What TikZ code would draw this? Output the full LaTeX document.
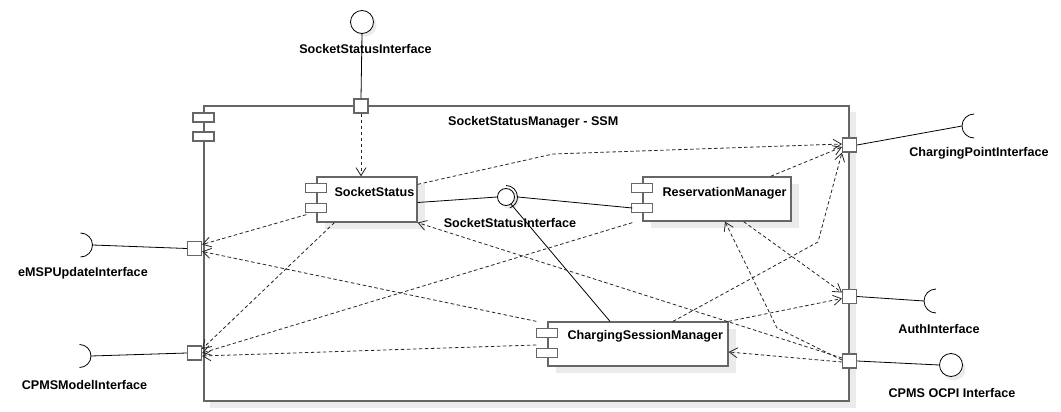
\documentclass[tikz,border=0pt]{standalone}
\usepackage{fontspec}
\setmainfont{Liberation Sans}
\usetikzlibrary{arrows.meta,calc}
\begin{document}
\begin{tikzpicture}[x=1pt,y=-1pt,
  lbl/.style={font=\bfseries\fontsize{12.6}{14}\selectfont, inner sep=0pt},
  boxc/.style={draw=black!60, line width=1.3pt, fill=white, inner sep=0pt},
  shad/.style={fill=black!8, draw=none},
  icon/.style={draw=black!60, line width=1.1pt, fill=white},
  port/.style={draw=black!60, line width=1.1pt, fill=white, minimum size=14pt, inner sep=0pt},
  iface/.style={draw=black, line width=0.8pt, fill=white, circle, minimum size=23pt, inner sep=0pt},
  dep/.style={draw=black!85, line width=0.8pt, dash pattern=on 3.5pt off 2.5pt, -{Straight Barb[length=8pt,width=10pt,line width=0.8pt]}},
  dl/.style={draw=black!85, line width=0.8pt, dash pattern=on 3.5pt off 2.5pt},
  sl/.style={draw=black, line width=0.8pt},
]
\useasboundingbox (0,0) rectangle (1061,412);
% main component
\fill[shad] (210,112) rectangle (856,408);
\node[boxc, minimum width=645pt, minimum height=295pt] (ssm) at (526.5,253.5) {};
\draw[icon] (193,113) rectangle (214,122);
\draw[icon] (193,132) rectangle (214,141);
\node[lbl, anchor=west] (ssmt) at (448,122) {SocketStatusManager - SSM};

% inner components
\fill[shad] (325,184) rectangle (425,229);
\fill[shad] (651,184) rectangle (799,228);
\fill[shad] (556,329) rectangle (736,373);
\node[boxc, minimum width=100pt, minimum height=45pt] (ss) at (367,199.5) {};
\node[boxc, minimum width=148pt, minimum height=44pt] (rm) at (717,199) {};
\node[boxc, minimum width=180pt, minimum height=44pt] (csm) at (638,344) {};
\foreach \b in {ss,rm,csm}{
  \draw[icon] ($(\b.north west)+(-11,7)$) rectangle ($(\b.north west)+(10,16)$);
  \draw[icon] ($(\b.north west)+(-11,27)$) rectangle ($(\b.north west)+(10,36)$);
}
\node[lbl, anchor=west] (sst) at ($(ss.north west)+(18,16)$) {SocketStatus};
\node[lbl, anchor=west] (rmt) at ($(rm.north west)+(20,17)$) {ReservationManager};
\node[lbl, anchor=west] (csmt) at ($(csm.north west)+(20,15)$) {ChargingSessionManager};

% ports
\node[port] (pt) at (361,106) {};
\node[port] (em) at (194.5,248.5) {};
\node[port] (cm) at (194.5,353) {};
\node[port] (cp) at (849.5,145) {};
\node[port] (au) at (849.5,296.5) {};
\node[port] (op) at (849.5,361) {};

% external interfaces
\fill[black!8] (365,25) circle[radius=11.5];
\node[iface] (tc) at (362,22) {};
\fill[black!8] (954,369) circle[radius=11.5];
\node[iface] (oc) at (951,365) {};
\coordinate (esk) at (92.5,245);
\coordinate (csk) at (91,356);
\coordinate (psk) at (962,126);
\coordinate (ask) at (924,301);
\draw[sl] ($(esk)+(-12,-12)$) arc[start angle=-90, end angle=90, radius=12];
\draw[sl] ($(csk)+(-11.5,-11.5)$) arc[start angle=-90, end angle=90, radius=11.5];
\draw[sl] ($(psk)+(12,-12)$) arc[start angle=-90, end angle=-270, radius=12];
\draw[sl] ($(ask)+(12,-12)$) arc[start angle=-90, end angle=-270, radius=12];

\draw[sl] (tc.south) -- (pt.north);
\draw[sl] (esk) -- (em.west);
\draw[sl] (csk) -- (cm.west);
\draw[sl] (cp.east) -- (psk);
\draw[sl] (au.east) -- (ask);
\draw[sl] (op.east) -- (oc.west);

% labels of external interfaces
\node[lbl] (l1) at (365.5,49) {SocketStatusInterface};
\node[lbl] (l2) at (83,273) {eMSPUpdateInterface};
\node[lbl] (l3) at (84.5,385) {CPMSModelInterface};
\node[lbl] (l4) at (979,153) {ChargingPointInterface};
\node[lbl] (l5) at (939,329) {AuthInterface};
\node[lbl] (l6) at (952,393) {CPMS OCPI Interface};

% ball and socket
\fill[black!8] (510,200) circle[radius=9];
\node[circle, draw=black, line width=0.8pt, fill=white, minimum size=17pt, inner sep=0pt] (ball) at (506,197) {};
\draw[sl] ($(ball)+(0,-11.5)$) arc[start angle=-90, end angle=70, radius=11.5];
\draw[sl] ($(ss.east)+(0,3)$) -- (ball.west);
\draw[sl] ($(rm.west)+(-10,9)$) -- ($(ball.east)+(3,0)$);
\draw[sl] ($(csm.north)+(-28,0)$) -- (ball.-55);
\node[lbl] (l7) at (510,223) {SocketStatusInterface};

% dependencies
\coordinate (b1) at (553,154);
\coordinate (b2) at (777,328);
\coordinate (b3) at (818,242);
\draw[dep] (pt.south) -- (pt.south |- ss.north);
\draw[dep] ($(ss.north east)+(0,8)$) -- (b1) -- ($(cp.west)+(0,-1)$);
\draw[dep] ($(ss.south west)+(-10,-8)$) -- ($(em.east)+(0,-4)$);
\draw[dep] ($(ss.south west)+(18,0)$) -- ($(cm.east)+(0,-4)$);
\draw[dep] ($(op.west)+(0,-3)$) -- (ss.south east);
\draw[dep] ($(rm.north east)+(-21,0)$) -- ($(cp.west)+(0,2)$);
\draw[dep] ($(rm.south east)+(-48,0)$) -- ($(au.west)+(0,-4)$);
\draw[dep] ($(rm.south west)+(-10,1)$) -- (cm.east);
\draw[dep] ($(op.west)+(0,-1)$) -- (b2) -- ($(rm.south)+(8,0)$);
\draw[dep] ($(csm.north west)+(-11,0)$) -- ($(em.east)+(0,3)$);
\draw[dep] ($(csm.west)+(-11,1)$) -- ($(cm.east)+(0,3)$);
\draw[dep] ($(csm.north)+(35,0)$) -- (b3) -- (cp.south west);
\draw[dep] (csm.north east) -- ($(au.west)+(0,2)$);
\draw[dep] ($(op.west)+(0,1)$) -- ($(csm.east)+(0,8)$);
\end{tikzpicture}
\end{document}
